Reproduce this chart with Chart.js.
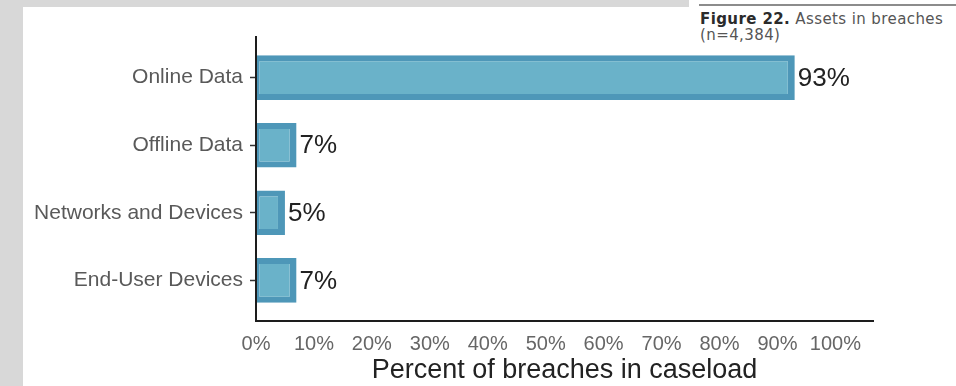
<!DOCTYPE html>
<html>
<head>
<meta charset="utf-8">
<script src="https://cdn.jsdelivr.net/npm/chart.js@4/dist/chart.umd.min.js"></script>
<style>
  html, body { margin: 0; padding: 0; }
  body { width: 956px; height: 386px; background: #d8d8d8; position: relative; overflow: hidden; }
  .panel { position: absolute; background: #fff; }
  #rule { position: absolute; left: 699px; top: 4px; right: 0; height: 2px; background: #8c8c8c; }
  #caption { position: absolute; left: 700px; top: 11px; font: 15px "DejaVu Sans", sans-serif; letter-spacing: 0.4px; line-height: 16px; color: #555; }
  #caption b { color: #2b2b2b; }
  #chart { position: absolute; left: 0; top: 0; }
</style>
</head>
<body>
<div class="panel" style="left:23px; top:7px; right:0; bottom:0;"></div>
<div class="panel" style="left:689px; top:0; right:0; height:8px;"></div>
<div id="rule"></div>
<div id="caption"><b>Figure 22.</b> Assets in breaches<br>(n=4,384)</div>
<canvas id="chart" width="956" height="386"></canvas>
<script>
const categories = ['Online Data', 'Offline Data', 'Networks and Devices', 'End-User Devices'];
const shares = [93, 7, 5, 7];
const percentTicks = [0, 10, 20, 30, 40, 50, 60, 70, 80, 90, 100];

const FONT = '"Liberation Sans", Arial, sans-serif';

// percentage printed just past the end of each bar
const valueLabels = {
  id: 'valueLabels',
  afterDatasetsDraw(chart) {
    const ctx = chart.ctx;
    const meta = chart.getDatasetMeta(0);
    ctx.save();
    ctx.font = '26px ' + FONT;
    ctx.fillStyle = '#222';
    ctx.textBaseline = 'middle';
    meta.data.forEach((bar, i) => {
      ctx.fillText(shares[i] + '%', bar.x + 3, bar.y + 1);
    });
    ctx.restore();
  },
};

new Chart(document.getElementById('chart'), {
  type: 'bar',
  data: {
    datasets: [{
      data: shares.map((v, i) => ({ x: v, y: i })),
      backgroundColor: '#6ab2c9',
      borderColor: '#4e97b8',
      borderWidth: { top: 6, bottom: 6, left: 3, right: 7 },
      borderSkipped: false,
      categoryPercentage: 1,
      barPercentage: 0.66,
    }],
  },
  options: {
    indexAxis: 'y',
    responsive: false,
    animation: false,
    layout: { padding: { top: 37, right: 83, left: 0, bottom: 0 } },
    plugins: { legend: { display: false }, tooltip: { enabled: false } },
    scales: {
      y: {
        type: 'linear',
        reverse: true,
        offset: false,
        min: -0.6,
        max: 3.6,
        afterFit: s => { s.width = 256; },
        afterBuildTicks: s => {
          s.ticks = categories.map((c, i) => ({ value: i }));
        },
        ticks: {
          stepSize: 1,
          padding: 7,
          color: '#595959',
          font: { family: FONT, size: 21 },
          callback: v => categories[v],
        },
        grid: { offset: false, drawOnChartArea: false, tickLength: 6, tickWidth: 1.5, color: '#333' },
        border: { display: true, color: '#1d1d1d', width: 2, z: 1 },
      },
      x: {
        min: 0,
        max: 106.5,
        afterFit: s => { s.height = 65; },
        afterBuildTicks: s => {
          s.ticks = percentTicks.map(v => ({ value: v }));
        },
        ticks: {
          padding: 11,
          maxRotation: 0,
          autoSkip: false,
          color: '#666',
          font: { family: FONT, size: 20 },
          callback: v => v + '%',
        },
        grid: { drawOnChartArea: false, drawTicks: false },
        border: { display: true, color: '#1d1d1d', width: 2, z: 1 },
        title: {
          display: true,
          text: 'Percent of breaches in caseload',
          color: '#222',
          font: { family: FONT, size: 27, lineHeight: 1.15 },
          padding: { top: 0, bottom: 0 },
        },
      },
    },
  },
  plugins: [valueLabels],
});
</script>
</body>
</html>
